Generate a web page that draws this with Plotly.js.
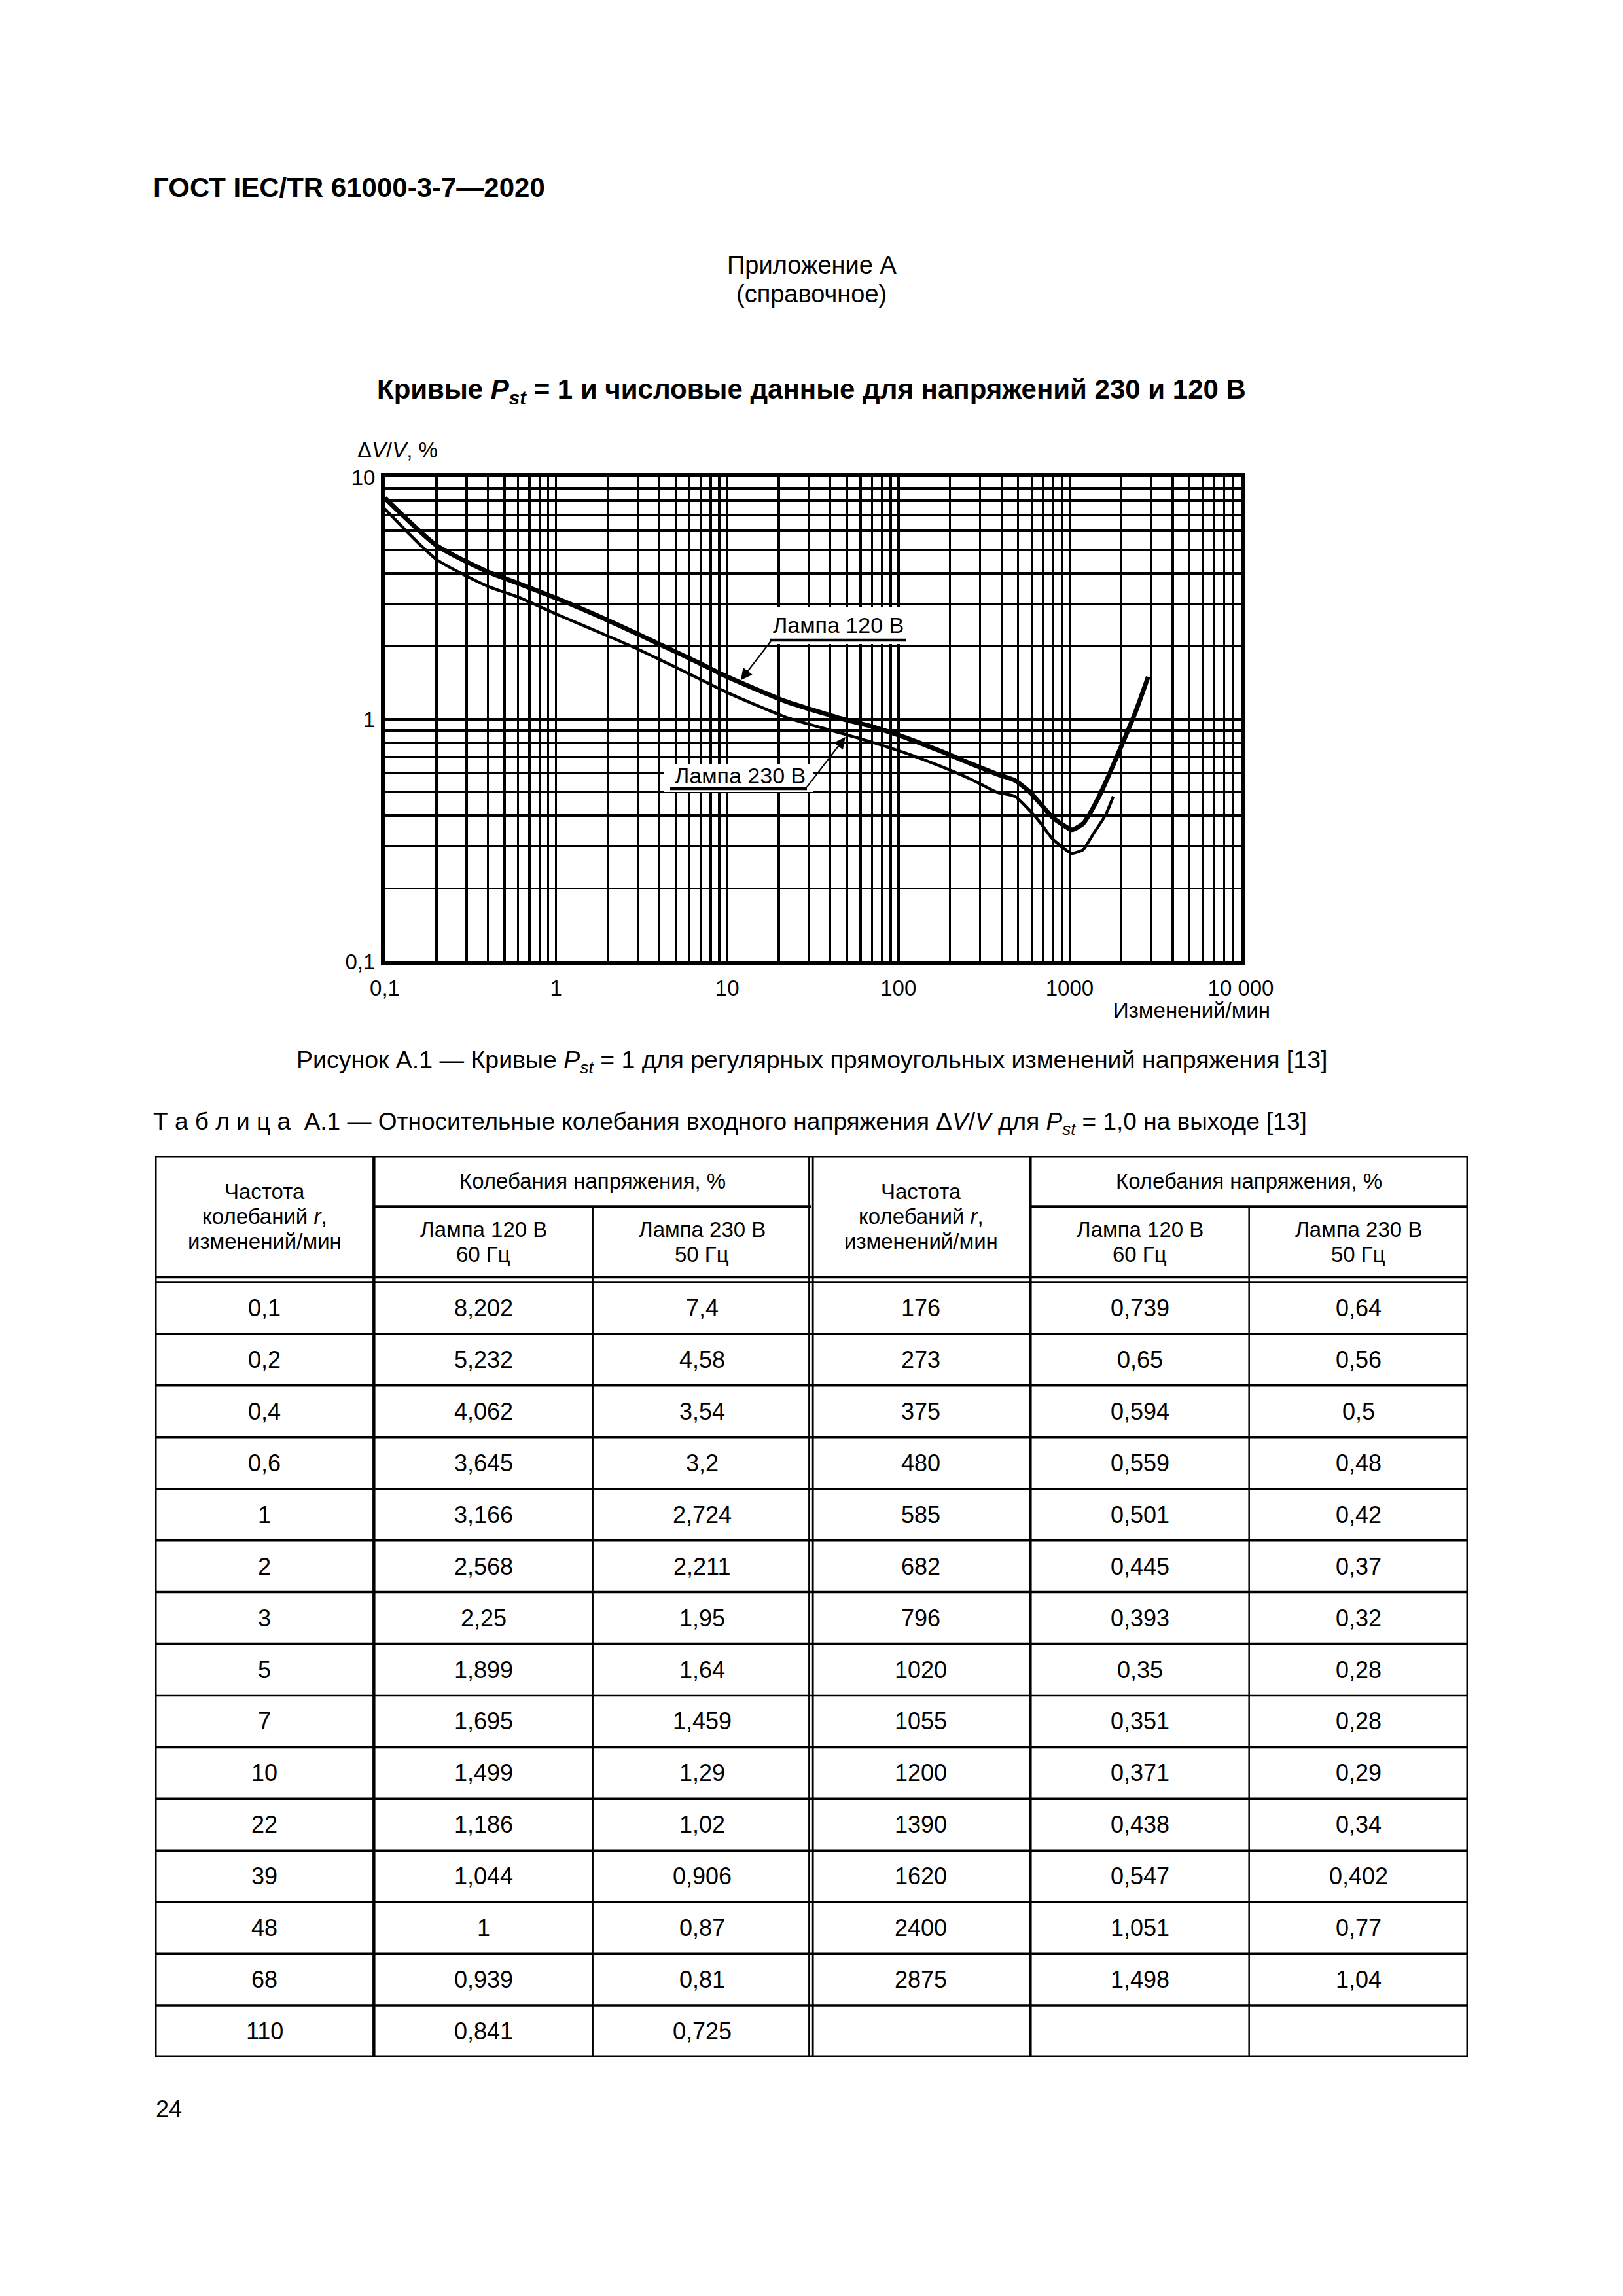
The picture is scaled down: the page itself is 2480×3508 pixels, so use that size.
<!DOCTYPE html>
<html><head><meta charset="utf-8">
<script src="https://cdn.plot.ly/plotly-3.0.1.min.js"></script>
<style>html,body{margin:0;padding:0;background:#fff}</style>
</head><body><div id="chart" style="width:2480px;height:3508px"></div>
<script>
// ---- data (Таблица А.1) ----
const rateValues = [0.1,0.2,0.4,0.6,1,2,3,5,7,10,22,39,48,68,110,176,273,375,480,585,682,796,1020,1055,1200,1390,1620,2400,2875];
const lamp120 = [8.202,5.232,4.062,3.645,3.166,2.568,2.25,1.899,1.695,1.499,1.186,1.044,1,0.939,0.841,0.739,0.65,0.594,0.559,0.501,0.445,0.393,0.35,0.351,0.371,0.438,0.547,1.051,1.498];
const lamp230 = [7.4,4.58,3.54,3.2,2.724,2.211,1.95,1.64,1.459,1.29,1.02,0.906,0.87,0.81,0.725,0.64,0.56,0.5,0.48,0.42,0.37,0.32,0.28,0.28,0.29,0.34,0.402,0.77,1.04];
// the 230 V curve in the figure stops shortly after 1620 (end point)
const curve230LastIndex = 26;
const curve230EndX = [1800];
const curve230EndY = [0.48];
// axis labels
const xTickVals = [0.1,1,10,100,1000,10000];
const xTickText = ['0,1','1','10','100','1000','10 000'];
const yTickVals = [0.1,1,10];
const yTickText = ['0,1','1','10'];

// ---- page geometry ----
const W = 2480, H = 3508;
const FONT = '"Liberation Sans", Arial, sans-serif';
const px = x => x / W;
const py = y => 1 - y / H;

function fmt(v){ return String(v).replace('.', ','); }

function gridTicks(minExp, maxExp, vals, texts){
  const tv = [], tt = [];
  for (let d = minExp; d < maxExp; d++) {
    for (let k = 1; k <= 9; k++) {
      const v = k * Math.pow(10, d);
      tv.push(v);
      if (k === 1) {
        const idx = vals.findIndex(u => Math.abs(Math.log10(u) - d) < 1e-9);
        tt.push(idx >= 0 ? texts[idx] : '');
      } else tt.push('');
    }
  }
  tv.push(Math.pow(10, maxExp));
  const idx = vals.findIndex(u => Math.abs(Math.log10(u) - maxExp) < 1e-9);
  tt.push(idx >= 0 ? texts[idx] : '');
  return {tv, tt};
}
const gx = gridTicks(-1, 4, xTickVals, xTickText);
const gy = gridTicks(-1, 1, yTickVals, yTickText);

const annotations = [];
const shapes = [];
function ptext(text, x, y, size, anchor){
  annotations.push({text, x: px(x), y: py(y), xref:'paper', yref:'paper', showarrow:false,
    xanchor: anchor || 'center', yanchor:'middle', font:{family:FONT, size, color:'#000'}});
}

// page texts
ptext('<b>ГОСТ IEC/TR 61000-3-7—2020</b>', 232, 287, 42, 'left');
ptext('Приложение А', 1240, 405, 38);
ptext('(справочное)', 1240, 449, 38);
ptext('<b>Кривые <i>P</i><sub><i>st</i></sub> = 1 и числовые данные для напряжений 230 и 120 В</b>', 1240, 597, 42);
ptext('Δ<i>V</i>/<i>V</i>, %', 544, 687, 33, 'left');
ptext('Изменений/мин', 1943, 1543, 33, 'right');
ptext('Рисунок А.1 — Кривые <i>P</i><sub><i>st</i></sub> = 1 для регулярных прямоугольных изменений напряжения [13]', 1240, 1622, 37.5);
ptext('Т\u00a0а\u00a0б\u00a0л\u00a0и\u00a0ц\u00a0а\u00a0\u00a0А.1 — Относительные колебания входного напряжения Δ<i>V</i>/<i>V</i> для <i>P</i><sub><i>st</i></sub> = 1,0 на выходе [13]', 232, 1716, 37, 'left');
ptext('24', 236, 3222, 36, 'left');

// curve labels (white boxes, underlines, arrows)
function rect(x0,y0,x1,y1){
  shapes.push({type:'rect', xref:'paper', yref:'paper', x0:px(x0), x1:px(x1), y0:py(y0), y1:py(y1),
    fillcolor:'#fff', line:{width:0}, layer:'above'});
}
function pline(x0,y0,x1,y1,w){
  shapes.push({type:'line', xref:'paper', yref:'paper', x0:px(x0), x1:px(x1), y0:py(y0), y1:py(y1),
    line:{color:'#000', width:w}, layer:'above'});
}
rect(1172, 928, 1388, 984);
ptext('Лампа 120 В', 1281, 955, 34);
pline(1177, 978, 1385, 978, 4.5);
rect(1014, 1168, 1242, 1210);
ptext('Лампа 230 В', 1131, 1185, 34);
pline(1024, 1205, 1233, 1205, 4.5);
// arrows pointing to curves (annotation positions on log axes are given as log10)
annotations.push({x: Math.log10(12), y: Math.log10(1.45), xref:'x', yref:'y', text:'', showarrow:true,
  ax: 47, ay: -61, axref:'pixel', ayref:'pixel', arrowhead:2, arrowsize:1.6, arrowwidth:2.2, arrowcolor:'#000', standoff:0, startstandoff:0});
annotations.push({x: Math.log10(49), y: Math.log10(0.845), xref:'x', yref:'y', text:'', showarrow:true,
  ax: -60, ay: 78, axref:'pixel', ayref:'pixel', arrowhead:2, arrowsize:1.6, arrowwidth:2.2, arrowcolor:'#000', standoff:0, startstandoff:0});

// ---- table (axes x2/y2: columns 0..6, rows downwards) ----
const T_TOP = -2.445, T_SUB = -1.4624, T_DBL = -0.095, NROWS = 15;
function tline(x0,y0,x1,y1,w){
  shapes.push({type:'line', xref:'x2', yref:'y2', x0, x1, y0, y1, line:{color:'#000', width:w}, layer:'above'});
}
function ttext(text, x, y, size){
  annotations.push({text, x, y, xref:'x2', yref:'y2', showarrow:false, xanchor:'center', yanchor:'middle',
    font:{family:FONT, size, color:'#000'}});
}
// borders
tline(0, T_TOP, 6, T_TOP, 5);
tline(0, NROWS, 6, NROWS, 5);
tline(0, T_TOP, 0, NROWS, 5);
tline(6, T_TOP, 6, NROWS, 5);
// header lines
tline(1, T_SUB, 3, T_SUB, 4.5);
tline(4, T_SUB, 6, T_SUB, 4.5);
tline(0, T_DBL, 6, T_DBL, 3.5);
tline(0, 0, 6, 0, 3.5);
for (let r = 1; r < NROWS; r++) tline(0, r, 6, r, 3.5);
// verticals
tline(1, T_TOP, 1, NROWS, 4.5);
tline(4, T_TOP, 4, NROWS, 4.5);
tline(2, T_SUB, 2, NROWS, 2.5);
tline(5, T_SUB, 5, NROWS, 2.5);
tline(2.9895, T_TOP, 2.9895, NROWS, 2.8);
tline(3.0065, T_TOP, 3.0065, NROWS, 2.8);

// header texts
const HS = 33, LS = 0.481; // font size, line step in rows
const hdrC = (T_TOP + T_DBL) / 2;
const subC = (T_SUB + T_DBL) / 2;
const topC = (T_TOP + T_SUB) / 2;
[0, 3].forEach(off => {
  ttext('Частота', off + 0.5, hdrC - LS, HS);
  ttext('колебаний <i>r</i>,', off + 0.5, hdrC, HS);
  ttext('изменений/мин', off + 0.5, hdrC + LS, HS);
  ttext('Колебания напряжения, %', off + 2, topC, HS);
  ttext('Лампа 120 В', off + 1.5, subC - LS/2, HS);
  ttext('60 Гц', off + 1.5, subC + LS/2, HS);
  ttext('Лампа 230 В', off + 2.5, subC - LS/2, HS);
  ttext('50 Гц', off + 2.5, subC + LS/2, HS);
});
// data cells
const DS = 36;
rateValues.forEach((r, i) => {
  const off = i < NROWS ? 0 : 3;
  const row = i < NROWS ? i : i - NROWS;
  ttext(fmt(r), off + 0.5, row + 0.5, DS);
  ttext(fmt(lamp120[i]), off + 1.5, row + 0.5, DS);
  ttext(fmt(lamp230[i]), off + 2.5, row + 0.5, DS);
});

// ---- traces ----
const traces = [
  {x: rateValues, y: lamp120, type:'scatter', mode:'lines', name:'Лампа 120 В',
   line:{color:'#000', width:7, shape:'spline', smoothing:0.6}, xaxis:'x', yaxis:'y'},
  {x: rateValues.slice(0, curve230LastIndex + 1).concat(curve230EndX),
   y: lamp230.slice(0, curve230LastIndex + 1).concat(curve230EndY), type:'scatter', mode:'lines', name:'Лампа 230 В',
   line:{color:'#000', width:4.5, shape:'spline', smoothing:0.6}, xaxis:'x', yaxis:'y'},
  {x:[0], y:[0], type:'scatter', mode:'markers', marker:{opacity:0}, xaxis:'x2', yaxis:'y2', hoverinfo:'skip'}
];

const layout = {
  width: W, height: H, margin:{l:0, r:0, t:0, b:0},
  paper_bgcolor:'#fff', plot_bgcolor:'#fff', showlegend:false, hovermode:false,
  xaxis:{type:'log', range:[-1, 4], domain:[px(588), px(1896)], anchor:'y',
    tickmode:'array', tickvals: gx.tv, ticktext: gx.tt, ticks:'', showgrid:true, gridcolor:'#000', gridwidth:3.5,
    showline:true, linecolor:'#000', linewidth:6, mirror:true, zeroline:false, automargin:false,
    tickfont:{family:FONT, size:33, color:'#000'}, ticklabelstandoff: 6},
  yaxis:{type:'log', range:[-1, 1], domain:[py(1469), py(729)], anchor:'x',
    tickmode:'array', tickvals: gy.tv, ticktext: gy.tt, ticks:'', showgrid:true, gridcolor:'#000', gridwidth:3.5,
    showline:true, linecolor:'#000', linewidth:6, mirror:true, zeroline:false, automargin:false,
    tickfont:{family:FONT, size:33, color:'#000'}, ticklabelstandoff: 2},
  xaxis2:{range:[0, 6], domain:[px(237), px(2243)], anchor:'y2', visible:false, fixedrange:true},
  yaxis2:{range:[NROWS, T_TOP], domain:[py(3143), py(1766)], anchor:'x2', visible:false, fixedrange:true},
  shapes, annotations
};

Plotly.newPlot('chart', traces, layout, {staticPlot:true, displayModeBar:false});
</script></body></html>
